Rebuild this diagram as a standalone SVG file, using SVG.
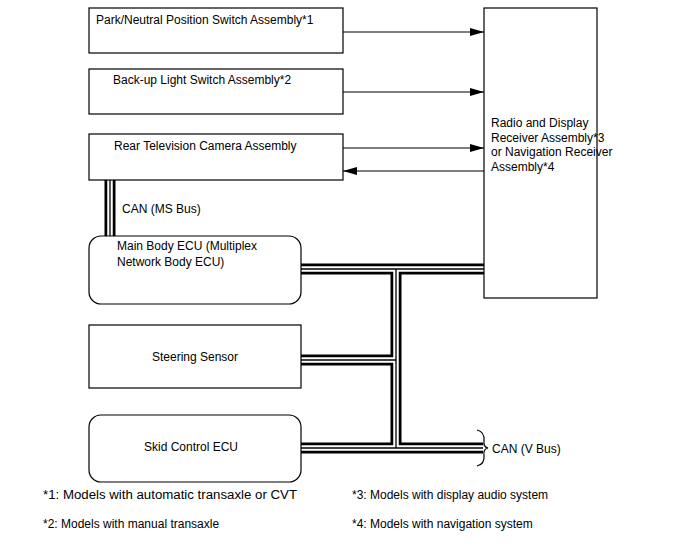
<svg xmlns="http://www.w3.org/2000/svg" xmlns:xlink="http://www.w3.org/1999/xlink" width="688" height="560" viewBox="0 0 688 560">
<style>
  .box { fill: #fff; stroke: #000; stroke-width: 1.2; }
  .t { font-family: "Liberation Sans", Arial, sans-serif; font-size: 12px; fill: #000; }
  .tc { text-anchor: middle; }
  .arr { stroke: #000; stroke-width: 1.2; fill: none; marker-end: url(#ah); }
  .b1 { stroke: #000; stroke-width: 11; fill: none; }
  .b2 { stroke: #fff; stroke-width: 5.5; fill: none; }
  .b3 { stroke: #000; stroke-width: 1.3; fill: none; }
  .brace { stroke: #000; stroke-width: 1.2; fill: none; }
</style>
<defs>
  <marker id="ah" markerUnits="userSpaceOnUse" markerWidth="14" markerHeight="8" refX="14" refY="4" orient="auto">
    <path d="M0,0 L14,4 L0,8 Z" fill="#000"/>
  </marker>
  <path id="busMS" d="M110,180 V236"/>
  <path id="busMain" d="M301,269 H484"/>
  <path id="busTrunk" d="M396,269 V448"/>
  <path id="busSteer" d="M301,360 H396"/>
  <path id="busV" d="M301,448 H483"/>
</defs>
<rect width="688" height="560" fill="#fff"/>

<g id="connectors">
  <line class="arr" x1="343" y1="32" x2="484" y2="32"/>
  <line class="arr" x1="343" y1="92" x2="484" y2="92"/>
  <line class="arr" x1="343" y1="148" x2="484" y2="148"/>
  <line class="arr" x1="484" y1="171" x2="343" y2="171"/>
  <g class="b1">
    <use xlink:href="#busMS"/><use xlink:href="#busMain"/><use xlink:href="#busTrunk"/><use xlink:href="#busSteer"/><use xlink:href="#busV"/>
  </g>
  <g class="b2">
    <use xlink:href="#busMS"/><use xlink:href="#busMain"/><use xlink:href="#busTrunk"/><use xlink:href="#busSteer"/><use xlink:href="#busV"/>
  </g>
  <g class="b3">
    <use xlink:href="#busMS"/><use xlink:href="#busMain"/><use xlink:href="#busTrunk"/><use xlink:href="#busSteer"/><use xlink:href="#busV"/>
  </g>
  <path class="brace" d="M477,430 Q485,432 484,441 Q483,447 488,448 Q483,449 484,455 Q485,464 477,466"/>
  <text class="t" x="122" y="213">CAN (MS Bus)</text>
  <text class="t" x="492" y="453">CAN (V Bus)</text>
</g>

<g id="park">
  <rect class="box" x="89" y="8" width="254" height="45"/>
  <text class="t" x="96" y="24">Park/Neutral Position Switch Assembly*1</text>
</g>
<g id="backup">
  <rect class="box" x="89" y="69" width="254" height="45"/>
  <text class="t" x="113" y="84">Back-up Light Switch Assembly*2</text>
</g>
<g id="rearcam">
  <rect class="box" x="89" y="134" width="254" height="46"/>
  <text class="t" x="114" y="150">Rear Television Camera Assembly</text>
</g>
<g id="radio">
  <rect class="box" x="484" y="8" width="113" height="290"/>
  <text class="t" x="491" y="127">Radio and Display</text>
  <text class="t" x="491" y="141.5">Receiver Assembly*3</text>
  <text class="t" x="491" y="156">or Navigation Receiver</text>
  <text class="t" x="491" y="170.5">Assembly*4</text>
</g>
<g id="mainbody">
  <rect class="box" x="89" y="236" width="212" height="68" rx="12"/>
  <text class="t" x="117" y="250">Main Body ECU (Multiplex</text>
  <text class="t" x="117" y="266">Network Body ECU)</text>
</g>
<g id="steering">
  <rect class="box" x="89" y="325" width="212" height="63"/>
  <text class="t tc" x="195" y="361">Steering Sensor</text>
</g>
<g id="skid">
  <rect class="box" x="89" y="415" width="212" height="67" rx="12"/>
  <text class="t tc" x="191" y="451">Skid Control ECU</text>
</g>
<g id="notes">
  <text class="t" x="43" y="499" textLength="254" lengthAdjust="spacingAndGlyphs">*1: Models with automatic transaxle or CVT</text>
  <text class="t" x="43" y="528">*2: Models with manual transaxle</text>
  <text class="t" x="352" y="499">*3: Models with display audio system</text>
  <text class="t" x="352" y="528">*4: Models with navigation system</text>
</g>
</svg>
